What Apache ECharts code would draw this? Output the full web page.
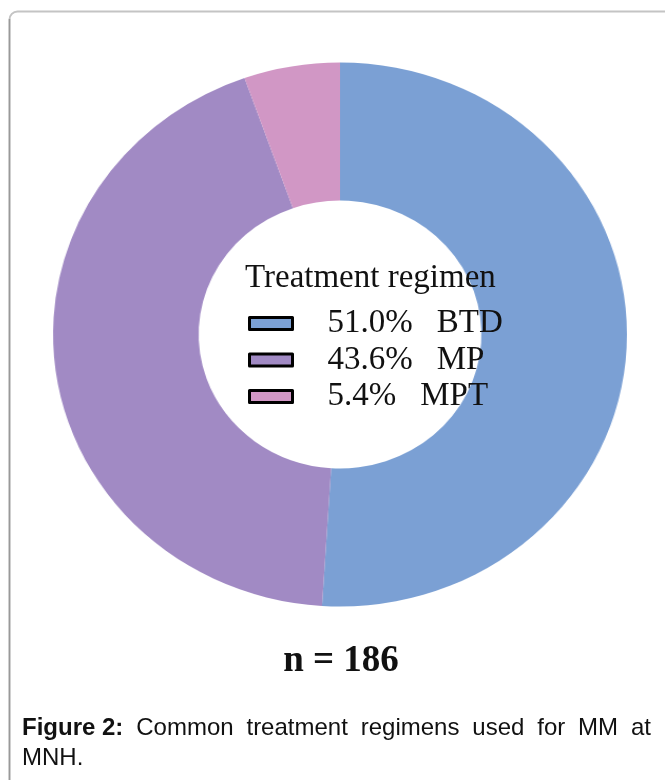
<!DOCTYPE html>
<html>
<head>
<meta charset="utf-8">
<script src="https://cdn.jsdelivr.net/npm/echarts@6/dist/echarts.min.js"></script>
<style>
  html, body { margin: 0; padding: 0; background: #ffffff; }
  #wrap { position: relative; width: 665px; height: 780px; overflow: hidden; }
  #pie, #overlay { position: absolute; left: 0; top: 0; width: 665px; height: 780px; }
  #pie { transform: scaleX(1.055); transform-origin: 340px 0; }
</style>
</head>
<body>
<div id="wrap">
  <div id="pie"></div>
  <div id="overlay"></div>
</div>
<script>
// ---- data ----
const categories = ['BTD', 'MP', 'MPT'];
const percents = [51.0, 43.6, 5.4];
const sampleSize = 186;
const legendTitle = 'Treatment regimen';
const captionBold = 'Figure 2:';
const captionWords = ['Common', 'treatment', 'regimens', 'used', 'for', 'MM', 'at'];
const captionLine2 = 'MNH.';

// ---- styles ----
const colors = ['#7BA0D4', '#A18AC4', '#D197C5'];
const serif = 'Liberation Serif, Times New Roman, serif';
const sans = 'Liberation Sans, Arial, sans-serif';

const pieData = categories.map((c, i) => ({
  name: c, value: percents[i], itemStyle: { color: colors[i] }
}));

const pieChart = echarts.init(document.getElementById('pie'), null, { renderer: 'canvas' });
pieChart.setOption({
  animation: false,
  series: [{
    type: 'pie',
    center: [340, 334.5],
    radius: [134, 272],
    startAngle: 90,
    clockwise: true,
    label: { show: false },
    labelLine: { show: false },
    emphasis: { scale: false },
    data: pieData
  }]
});

// ---- justified caption line (text layout only) ----
const capFontBold = 'bold 24px ' + sans;
const capFont = '24px ' + sans;
const mctx = document.createElement('canvas').getContext('2d');
function tw(text, font) { mctx.font = font; return mctx.measureText(text).width; }
const capLeft = 22, capRight = 651;
const capItems = [{ text: captionBold, font: capFontBold }].concat(
  captionWords.map(w => ({ text: w, font: capFont })));
const widths = capItems.map(it => tw(it.text, it.font));
const totalW = widths.reduce((a, b) => a + b, 0);
const gap = (capRight - capLeft - totalW) / (capItems.length - 1);
let cx = capLeft;
const captionGraphics = capItems.map((it, i) => {
  const g = { type: 'text', x: cx, y: 728, style: { text: it.text, font: it.font, fill: '#111', textVerticalAlign: 'middle' } };
  cx += widths[i] + gap;
  return g;
}).concat([
  { type: 'text', x: capLeft, y: 758, style: { text: captionLine2, font: capFont, fill: '#111', textVerticalAlign: 'middle' } }
]);

// overlay: frame, legend, texts
const overlay = echarts.init(document.getElementById('overlay'), null, { renderer: 'canvas' });
overlay.setOption({
  animation: false,
  backgroundColor: 'transparent',
  legend: {
    orient: 'vertical',
    left: 248,
    top: 307,
    padding: 0,
    itemWidth: 43,
    itemHeight: 12,
    itemGap: 3.5,
    icon: 'rect',
    itemStyle: { borderColor: '#000', borderWidth: 3 },
    selectedMode: false,
    data: categories,
    formatter: function (name) {
      const i = categories.indexOf(name);
      return '{v|' + percents[i].toFixed(1) + '%}{n|' + name + '}';
    },
    textStyle: {
      fontFamily: serif, fontSize: 33, color: '#111', lineHeight: 20, padding: [0, 0, 0, 30],
      rich: {
        v: { fontFamily: serif, fontSize: 33, color: '#111', lineHeight: 20 },
        n: { fontFamily: serif, fontSize: 33, color: '#111', lineHeight: 20, padding: [0, 0, 0, 24] }
      }
    }
  },
  graphic: [
    { type: 'rect', shape: { x: 9.5, y: 11.5, width: 720, height: 820, r: 8 },
      style: { fill: 'none', stroke: '#c4c4c4', lineWidth: 2 } },
    { type: 'line', shape: { x1: 9.5, y1: 19, x2: 9.5, y2: 780 },
      style: { stroke: '#999999', lineWidth: 1.5 } },
    { type: 'text', x: 245, y: 278, style: { text: legendTitle, font: '33px ' + serif, fill: '#111', textAlign: 'left', textVerticalAlign: 'middle' } },
    { type: 'text', x: 341, y: 661, style: { text: 'n = ' + sampleSize, font: 'bold 37px ' + serif, fill: '#111', textAlign: 'center', textVerticalAlign: 'middle' } }
  ].concat(captionGraphics),
  series: [{
    type: 'pie',
    center: [340, 334.5],
    radius: [0, 0],
    silent: true,
    label: { show: false },
    labelLine: { show: false },
    data: pieData
  }]
});
</script>
</body>
</html>
